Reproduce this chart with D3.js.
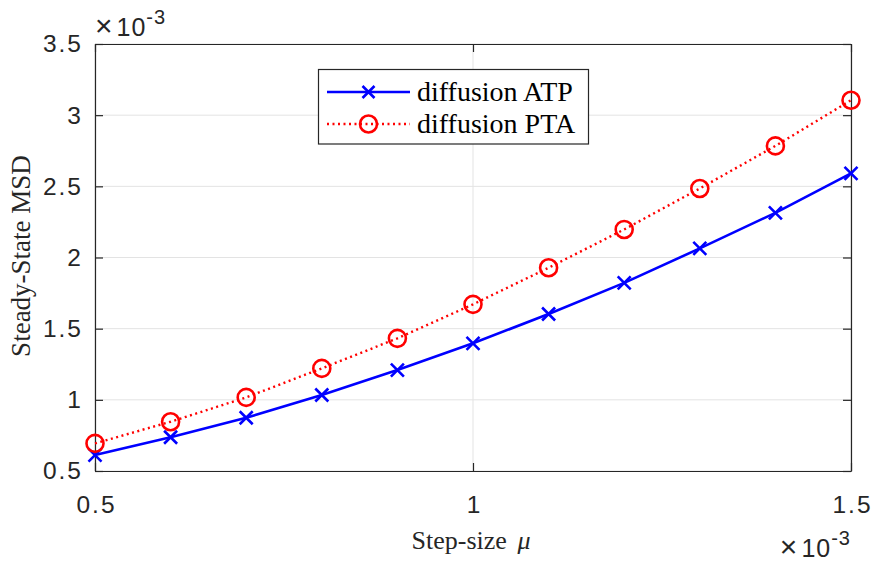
<!DOCTYPE html>
<html>
<head>
<meta charset="utf-8">
<script src="https://cdn.jsdelivr.net/npm/d3@7"></script>
<style>
  html, body { margin: 0; padding: 0; background: #fff; }
  svg { display: block; }
</style>
</head>
<body>
<svg id="chart" width="873" height="565"></svg>
<script>
// Step-size values (×10^-3)
const stepSize = [0.5, 0.6, 0.7, 0.8, 0.9, 1.0, 1.1, 1.2, 1.3, 1.4, 1.5];
// Steady-state MSD (×10^-3)
const msdATP = [0.612, 0.737, 0.874, 1.034, 1.209, 1.397, 1.603, 1.822, 2.064, 2.314, 2.591];
const msdPTA = [0.694, 0.846, 1.017, 1.221, 1.432, 1.671, 1.928, 2.197, 2.485, 2.784, 3.105];
const xTicks = [0.5, 1, 1.5];
const yTicks = [0.5, 1, 1.5, 2, 2.5, 3, 3.5];
const seriesNames = ["diffusion ATP", "diffusion PTA"];

const svg = d3.select("#chart");
const plotL = 95, plotR = 851, plotT = 44, plotB = 471;
const axisColor = "#262626";
const tickFont = "'Liberation Sans', Arial, sans-serif";
const serifFont = "'Liberation Serif', 'Times New Roman', serif";
const tickSize = "24.5px", tickSpacing = "2px";

const x = d3.scaleLinear().domain([0.5, 1.5]).range([plotL, plotR]);
const y = d3.scaleLinear().domain([0.5, 3.5]).range([plotB, plotT]);

// grid
const grid = svg.append("g");
grid.selectAll(".gx").data(xTicks).enter().append("line")
  .attr("x1", d => x(d)).attr("x2", d => x(d))
  .attr("y1", plotT).attr("y2", plotB)
  .attr("stroke", "#e3e3e3").attr("stroke-width", 1);
grid.selectAll(".gy").data(yTicks).enter().append("line")
  .attr("x1", plotL).attr("x2", plotR)
  .attr("y1", d => y(d)).attr("y2", d => y(d))
  .attr("stroke", "#e3e3e3").attr("stroke-width", 1);

// axes with inward ticks
const tickLen = 8;
const fmt = d => d3.format("")(d);
const xAxisB = d3.axisBottom(x).tickValues(xTicks).tickSizeInner(-tickLen).tickSizeOuter(0).tickPadding(25).tickFormat(fmt);
const xAxisT = d3.axisTop(x).tickValues(xTicks).tickSizeInner(-tickLen).tickSizeOuter(0).tickFormat("");
const yAxisL = d3.axisLeft(y).tickValues(yTicks).tickSizeInner(-tickLen).tickSizeOuter(0).tickPadding(12).tickFormat(fmt);
const yAxisR = d3.axisRight(y).tickValues(yTicks).tickSizeInner(-tickLen).tickSizeOuter(0).tickFormat("");

function styleAxis(g) {
  g.select(".domain").attr("stroke", axisColor).attr("stroke-width", 1.2);
  g.selectAll(".tick line").attr("stroke", axisColor).attr("stroke-width", 1.2);
  g.selectAll(".tick text").attr("fill", axisColor)
    .style("font-family", tickFont).style("font-size", tickSize).style("letter-spacing", tickSpacing);
}
const gxB = svg.append("g").attr("transform", `translate(0,${plotB})`).call(xAxisB).call(styleAxis);
// keep centred labels centred despite trailing letter spacing
gxB.selectAll(".tick text").attr("dx", 1);
svg.append("g").attr("transform", `translate(0,${plotT})`).call(xAxisT).call(styleAxis);
svg.append("g").attr("transform", `translate(${plotL},0)`).call(yAxisL).call(styleAxis);
svg.append("g").attr("transform", `translate(${plotR},0)`).call(yAxisR).call(styleAxis);

// exponent labels: ×10^-3
function expLabel(xp, yp, anchor) {
  const t = svg.append("text").attr("x", xp).attr("y", yp).attr("text-anchor", anchor)
    .attr("fill", axisColor).style("font-family", tickFont).style("font-size", "25px")
    .style("letter-spacing", "1px");
  t.append("tspan").style("font-size", "30px").style("font-weight", "300").text("\u00D7");
  t.append("tspan").attr("dx", 3).text("10");
  t.append("tspan").attr("dy", -12).style("font-size", "20px").text("-3");
}
expLabel(95, 36, "start");
expLabel(851, 557, "end");

// axis titles
svg.append("text").attr("x", 471).attr("y", 549).attr("text-anchor", "middle")
  .attr("fill", axisColor).style("font-family", serifFont).style("font-size", "26px")
  .call(t => {
    t.append("tspan").text("Step-size ");
    t.append("tspan").attr("dx", 4).style("font-style", "italic").text("\u03BC");
  });
svg.append("text").attr("transform", "translate(30,256) rotate(-90)").attr("text-anchor", "middle")
  .attr("fill", axisColor).style("font-family", serifFont).style("font-size", "27px")
  .text("Steady-State MSD");

// series
const line = d3.line().x((d, i) => x(stepSize[i])).y(d => y(d));
svg.append("path").datum(msdATP).attr("d", line)
  .attr("fill", "none").attr("stroke", "#0000ff").attr("stroke-width", 2.6);
svg.append("path").datum(msdPTA).attr("d", line)
  .attr("fill", "none").attr("stroke", "#ff0000").attr("stroke-width", 2.4)
  .attr("stroke-dasharray", "2 3.5");

function cross(g, cx, cy, s) {
  g.append("path").attr("d", `M${cx - s},${cy - s}L${cx + s},${cy + s}M${cx - s},${cy + s}L${cx + s},${cy - s}`)
    .attr("stroke", "#0000ff").attr("stroke-width", 2.6).attr("fill", "none");
}
function ring(g, cx, cy, r) {
  g.append("circle").attr("cx", cx).attr("cy", cy).attr("r", r)
    .attr("stroke", "#ff0000").attr("stroke-width", 2.6).attr("fill", "none");
}
const mk = svg.append("g");
msdATP.forEach((v, i) => cross(mk, x(stepSize[i]), y(v), 6.5));
msdPTA.forEach((v, i) => ring(mk, x(stepSize[i]), y(v), 8.5));

// legend
const lg = svg.append("g");
lg.append("rect").attr("x", 318.5).attr("y", 69.5).attr("width", 270).attr("height", 74.5)
  .attr("fill", "#fff").attr("stroke", axisColor).attr("stroke-width", 1.2);
const rows = [92, 124];
lg.append("line").attr("x1", 327).attr("x2", 410).attr("y1", rows[0]).attr("y2", rows[0])
  .attr("stroke", "#0000ff").attr("stroke-width", 2.6);
cross(lg, 368.5, rows[0], 6);
lg.append("line").attr("x1", 327).attr("x2", 410).attr("y1", rows[1]).attr("y2", rows[1])
  .attr("stroke", "#ff0000").attr("stroke-width", 2.4).attr("stroke-dasharray", "2 3.5");
ring(lg, 368.5, rows[1], 8.5);
seriesNames.forEach((n, i) => {
  lg.append("text").attr("x", 417).attr("y", rows[i] + 9).attr("fill", "#000")
    .style("font-family", serifFont).style("font-size", "28px").text(n);
});
</script>
</body>
</html>
